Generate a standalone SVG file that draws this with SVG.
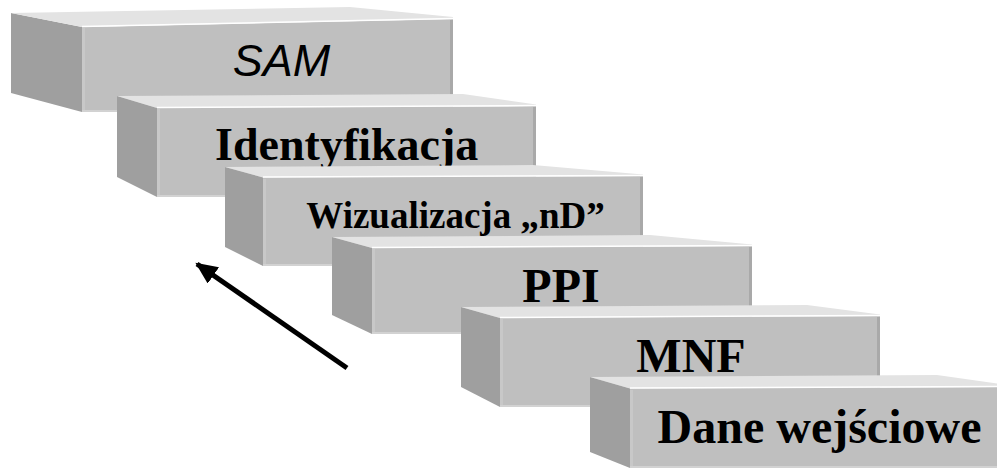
<svg xmlns="http://www.w3.org/2000/svg" width="997" height="470" viewBox="0 0 997 470">
<defs>
<style>
.side{fill:#9f9f9f}
.front{fill:#bfbfbf}
.top{fill:#e3e3e3}
.hl{stroke:#ffffff;stroke-width:1.5;fill:none}
.lb{stroke:#c8c8c8;stroke-width:3;fill:none}
.bb{stroke:#d2d2d2;stroke-width:2;fill:none}
.re{stroke:#a9a9a9;stroke-width:3;fill:none}
.serif{font-family:"Liberation Serif","Times New Roman",serif;font-weight:bold;fill:#000;text-anchor:middle}
.sans{font-family:"Liberation Sans",Arial,sans-serif;font-style:italic;fill:#000;text-anchor:middle}
.arrow{stroke:#000;stroke-width:5;fill:none}
</style>
<marker id="ah" markerUnits="userSpaceOnUse" markerWidth="24" markerHeight="20" refX="20" refY="10" orient="auto">
<path d="M0,0 L22,10 L0,20 Z" fill="#000"/>
</marker>
</defs>
<rect width="997" height="470" fill="#ffffff"/>

<g id="box-sam">
<polygon class="side" points="11,13 82,27 82,112 11,93"/>
<polygon class="front" points="82,27 453,19 453,112 82,112"/>
<polygon class="top" points="11,13 350,7 453,17 453,19 82,27"/>
<line class="lb" x1="83.5" y1="28" x2="83.5" y2="111"/>
<line class="bb" x1="82" y1="111" x2="453" y2="111"/>
<line class="re" x1="451.5" y1="20" x2="451.5" y2="112"/>
<line class="hl" x1="82" y1="26.5" x2="453" y2="18.5"/>
<text class="sans" x="281.5" y="76" font-size="45">SAM</text>
</g>

<g id="box-identyfikacja">
<polygon class="side" points="117,96 157,108 157,197 117,177"/>
<polygon class="front" points="157,108 536,106 536,197 157,197"/>
<polygon class="top" points="117,96 463,94 536,104.5 536,106 157,108"/>
<line class="lb" x1="158.5" y1="109" x2="158.5" y2="196"/>
<line class="bb" x1="157" y1="196" x2="536" y2="196"/>
<line class="re" x1="534.5" y1="107" x2="534.5" y2="197"/>
<line class="hl" x1="157" y1="107.5" x2="536" y2="105.5"/>
<text class="serif" x="346.7" y="160" font-size="46">Identyfikacja</text>
</g>

<g id="box-wizualizacja">
<polygon class="side" points="225,167 263,177.5 263,266 225,247"/>
<polygon class="front" points="263,177.5 643,176 643,266 263,266"/>
<polygon class="top" points="225,167 533,165 643,174.5 643,176 263,177.5"/>
<line class="lb" x1="264.5" y1="179" x2="264.5" y2="265"/>
<line class="bb" x1="263" y1="265" x2="643" y2="265"/>
<line class="re" x1="641.5" y1="177" x2="641.5" y2="266"/>
<line class="hl" x1="263" y1="177" x2="643" y2="175.5"/>
<text class="serif" x="455.5" y="228" font-size="37">Wizualizacja „nD”</text>
</g>

<g id="box-ppi">
<polygon class="side" points="332,237 372,248 372,334 332,315"/>
<polygon class="front" points="372,248 752,246 752,334 372,334"/>
<polygon class="top" points="332,237 650,235 752,244.5 752,246 372,248"/>
<line class="lb" x1="373.5" y1="249" x2="373.5" y2="333"/>
<line class="bb" x1="372" y1="333" x2="752" y2="333"/>
<line class="re" x1="750.5" y1="247" x2="750.5" y2="334"/>
<line class="hl" x1="372" y1="247.5" x2="752" y2="245.5"/>
<text class="serif" x="561" y="302" font-size="48">PPI</text>
</g>

<g id="box-mnf">
<polygon class="side" points="461,307 500,318 500,407 461,387"/>
<polygon class="front" points="500,318 880,316 880,407 500,407"/>
<polygon class="top" points="461,307 807,305 880,314.5 880,316 500,318"/>
<line class="lb" x1="501.5" y1="319" x2="501.5" y2="406"/>
<line class="bb" x1="500" y1="406" x2="880" y2="406"/>
<line class="re" x1="878.5" y1="317" x2="878.5" y2="407"/>
<line class="hl" x1="500" y1="317.5" x2="880" y2="315.5"/>
<text class="serif" x="691" y="372" font-size="48">MNF</text>
</g>

<g id="box-dane">
<polygon class="side" points="590,377 630,388.5 630,468 590,452"/>
<polygon class="front" points="630,388.5 1000,387 1000,468 630,468"/>
<polygon class="top" points="590,377 937,375 1000,384 1000,387 630,388.5"/>
<line class="lb" x1="631.5" y1="390" x2="631.5" y2="467"/>
<line class="bb" x1="630" y1="467" x2="1000" y2="467"/>
<line class="hl" x1="630" y1="388" x2="1000" y2="386.5"/>
<text class="serif" x="819.5" y="443" font-size="48">Dane wejściowe</text>
</g>

<g id="connectors">
<line class="arrow" x1="347" y1="368" x2="197" y2="264" marker-end="url(#ah)"/>
</g>
</svg>
